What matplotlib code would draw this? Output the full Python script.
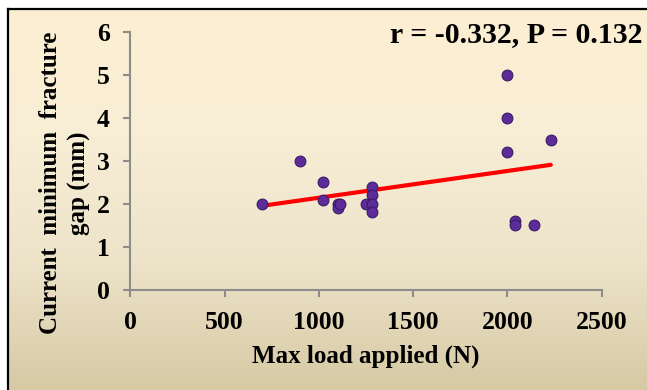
import numpy as np
import matplotlib
matplotlib.use("Agg")
import matplotlib.pyplot as plt
from matplotlib.colors import LinearSegmentedColormap

# --- datos ---
max_load = [700, 900, 1020, 1020, 1100, 1100, 1110, 1250, 1280, 1280, 1280, 1280,
            2000, 2000, 2000, 2230, 2040, 2040, 2140]
fracture_gap = [2.0, 3.0, 2.5, 2.1, 2.0, 1.9, 2.0, 2.0, 2.4, 2.2, 2.0, 1.8,
                5.0, 4.0, 3.2, 3.5, 1.6, 1.5, 1.5]
x_ticks = [0, 500, 1000, 1500, 2000, 2500]
y_ticks = [0, 1, 2, 3, 4, 5, 6]
stats_text = "r = -0.332, P = 0.132"

plt.rcParams['font.family'] = ['Liberation Serif', 'DejaVu Serif']
plt.rcParams['font.weight'] = 'bold'

W, H = 647, 390
fig = plt.figure(figsize=(W / 100, H / 100), dpi=100)
fig.patch.set_facecolor('white')

# fondo degradado con marco negro
bg = fig.add_axes([0, 0, 1, 1], zorder=-1)
bg.set_xlim(0, 1)
bg.set_ylim(0, 1)
bg.axis('off')
x0 = 7.5 / W
y1 = 1 - 8.5 / H
cmap = LinearSegmentedColormap.from_list('bg', ['#D6C9A4', '#EDE3C9', '#F8EED6', '#FCEFD2'])
grad = np.linspace(0, 1, 256).reshape(-1, 1)
bg.imshow(grad, cmap=cmap, aspect='auto', origin='lower', extent=[x0, 1, 0, y1])
bg.plot([x0, x0], [0, y1], color='black', lw=1.6, solid_capstyle='projecting')
bg.plot([x0, 1], [y1, y1], color='black', lw=1.6, solid_capstyle='projecting')

ax = fig.add_axes([130.4 / W, 1 - 289.7 / H, (601.7 - 130.4) / W, (289.7 - 32.3) / H])
ax.patch.set_alpha(0)

# linea de tendencia (minimos cuadrados)
slope, intercept = np.polyfit(max_load, fracture_gap, 1)
xs = np.array([min(max_load), max(max_load)])
ax.plot(xs, slope * xs + intercept, color='#FF0000', lw=3.0, zorder=2, solid_capstyle='round')

ax.scatter(max_load, fracture_gap, s=60, color='#5C2D98', edgecolor='#3A1A66',
           linewidth=0.8, zorder=3)

ax.set_xlim(0, 2500)
ax.set_ylim(0, 6)
ax.set_xticks(x_ticks)
ax.set_yticks(y_ticks)
for s in ['top', 'right']:
    ax.spines[s].set_visible(False)
for s in ['left', 'bottom']:
    ax.spines[s].set_color('#8C8C8C')
    ax.spines[s].set_linewidth(1.5)
ax.tick_params(direction='out', length=5, width=1.5, color='#8C8C8C',
               labelsize=18.5, pad=10)
for lab in ax.get_xticklabels() + ax.get_yticklabels():
    lab.set_fontweight('bold')

fig.text(366 / W, 1 - 356 / H, 'Max load applied (N)', ha='center', va='center',
         fontsize=18, fontweight='bold')
fig.text(65 / W, 1 - 183 / H, 'Current  minimum  fracture\ngap (mm)', ha='center',
         va='center', rotation=90, fontsize=18, fontweight='bold', linespacing=1.35)
fig.text(643 / W, 1 - 35 / H, stats_text, ha='right', va='center',
         fontsize=21.5, fontweight='bold')

fig.savefig('out.png', dpi=100)
